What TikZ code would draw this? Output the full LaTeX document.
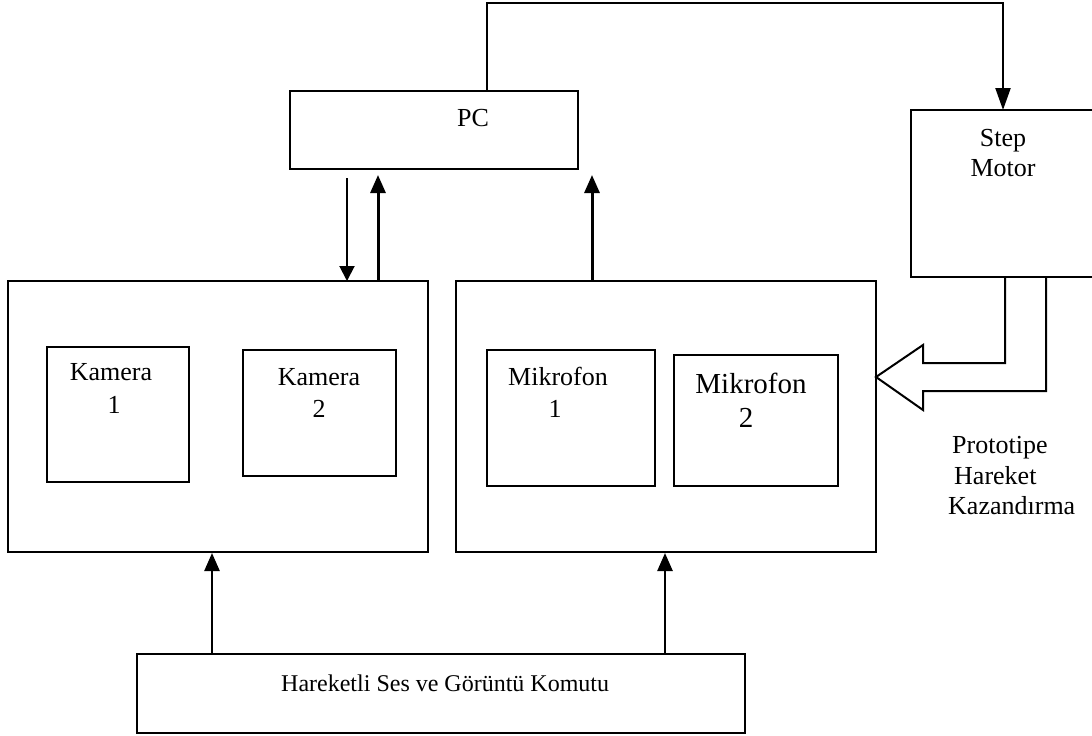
\documentclass[tikz,border=0pt]{standalone}
\usepackage{fontspec}
\setmainfont{Liberation Serif}
\usetikzlibrary{arrows.meta}
\begin{document}
\begin{tikzpicture}[x=1pt,y=-1pt,
  box/.style={draw=black,line width=2pt,fill=none},
  txt/.style={inner sep=0pt,anchor=base,font=\fontsize{26}{30}\selectfont},
  txtl/.style={inner sep=0pt,anchor=base west,font=\fontsize{26}{30}\selectfont},
  tip/.style={-{Triangle[length=18pt,width=15pt]}},
  thin arrow/.style={tip,line width=2pt},
  thick arrow/.style={tip,line width=3pt},
  outline/.style={line width=2pt,line join=miter}]
\useasboundingbox (0,0) rectangle (1092,736);

% blocks
\draw[box] (290,91) rectangle (578,169);
\draw[box] (911,110) rectangle (1095,277);
\draw[box] (8,281) rectangle (428,552);
\draw[box] (456,281) rectangle (876,552);
\draw[box] (47,347) rectangle (189,482);
\draw[box] (243,350) rectangle (396,476);
\draw[box] (487,350) rectangle (655,486);
\draw[box] (674,355) rectangle (838,486);
\draw[box] (137,654) rectangle (745,733);

% labels
\node[txt] (pc) at (473,126) {PC};
\node[txt] (step) at (1003,146) {Step};
\node[txt] (motor) at (1003,176) {Motor};
\node[txt] (k1a) at (111,380) {Kamera};
\node[txt] (k1b) at (114,413) {1};
\node[txt] (k2a) at (319,385) {Kamera};
\node[txt] (k2b) at (319,417) {2};
\node[txt] (m1a) at (558,385) {Mikrofon};
\node[txt] (m1b) at (555,417) {1};
\node[txt,font=\fontsize{29}{33}\selectfont] (m2a) at (751,393) {Mikrofon};
\node[txt,font=\fontsize{29}{33}\selectfont] (m2b) at (746,427) {2};
\node[txtl,font=\fontsize{24}{29}\selectfont] (cmd) at (281,691) {Hareketli Ses ve Görüntü Komutu};
\node[txtl] (p1) at (952,453) {Prototipe};
\node[txtl] (p2) at (954,484) {Hareket};
\node[txtl] (p3) at (948,514) {Kazandırma};

% connector endpoints
\coordinate (pcTop) at (487,91);
\coordinate (stepTop) at (1003,110);
\coordinate (camDownA) at (347,178);
\coordinate (camDownB) at (347,281);
\coordinate (camUpA) at (378,281);
\coordinate (camUpB) at (378,175);
\coordinate (micUpA) at (592,281);
\coordinate (micUpB) at (592,175);
\coordinate (cmdL) at (212,654);
\coordinate (camBot) at (212,553);
\coordinate (cmdR) at (665,654);
\coordinate (micBot) at (665,553);

% PC -> step motor
\draw[thin arrow,line width=2.2pt,-{Triangle[length=22pt,width=15pt]}] (pcTop) -- (487,3) -- (1003,3) -- (stepTop);
% PC <-> camera block
\draw[thin arrow,-{Triangle[length=15pt,width=15pt]}] (camDownA) -- (camDownB);
\draw[thick arrow] (camUpA) -- (camUpB);
\draw[thick arrow] (micUpA) -- (micUpB);
% command block -> sensors
\draw[thick arrow,line width=2.5pt] (cmdL) -- (camBot);
\draw[thick arrow,line width=2.5pt] (cmdR) -- (micBot);

% hollow block arrow from step motor to microphone block
\draw[outline] (1005,277) -- (1005,363) -- (923,363) -- (923,345) -- (876,377)
  -- (923,410) -- (923,391) -- (1046,391) -- (1046,277);
\end{tikzpicture}
\end{document}
